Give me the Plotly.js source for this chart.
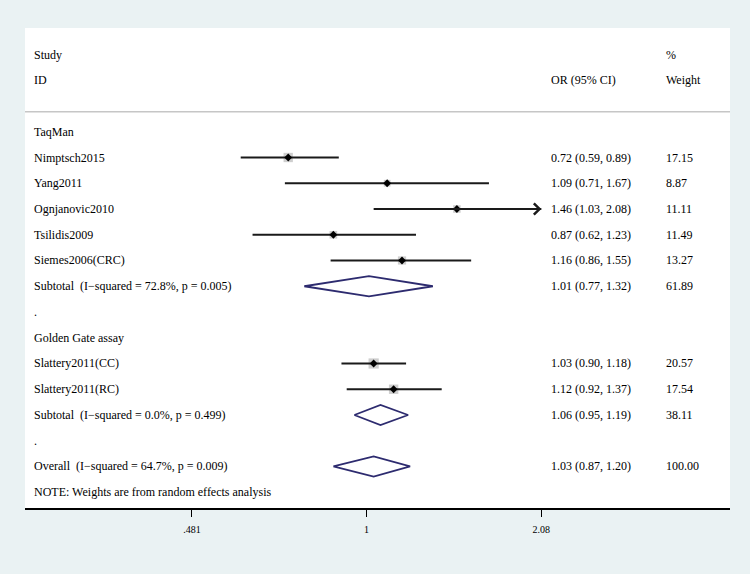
<!DOCTYPE html>
<html>
<head>
<meta charset="utf-8">
<script src="https://cdn.plot.ly/plotly-3.0.1.min.js"></script>
<style>html,body{margin:0;padding:0;background:#eaf2f3;}</style>
</head>
<body>
<div id="chart" style="width:750px;height:574px;"></div>
<script>
// ---- data ----
const rowLabels = [
  "TaqMan",
  "Nimptsch2015",
  "Yang2011",
  "Ognjanovic2010",
  "Tsilidis2009",
  "Siemes2006(CRC)",
  "Subtotal  (I\u2212squared = 72.8%, p = 0.005)",
  ".",
  "Golden Gate assay",
  "Slattery2011(CC)",
  "Slattery2011(RC)",
  "Subtotal  (I\u2212squared = 0.0%, p = 0.499)",
  ".",
  "Overall  (I\u2212squared = 64.7%, p = 0.009)"
];
const rowKind = ["group","study","study","study","study","study","pooled","blank","group","study","study","pooled","blank","pooled"];
const orEst  = [null, 0.72, 1.09, 1.46, 0.87, 1.16, 1.01, null, null, 1.03, 1.12, 1.06, null, 1.03];
const ciLow  = [null, 0.59, 0.71, 1.03, 0.62, 0.86, 0.77, null, null, 0.90, 0.92, 0.95, null, 0.87];
const ciHigh = [null, 0.89, 1.67, 2.08, 1.23, 1.55, 1.32, null, null, 1.18, 1.37, 1.19, null, 1.20];
const weight = [null, 17.15, 8.87, 11.11, 11.49, 13.27, 61.89, null, null, 20.57, 17.54, 38.11, null, 100.00];
const tickVals = [0.481, 1, 2.08];
const tickText = [".481", "1", "2.08"];
const overallOR = 1.03;
const headerLeft = ["Study", "ID"];
const headerOR = "OR (95% CI)";
const headerWeight = ["%", "Weight"];
const noteText = "NOTE: Weights are from random effects analysis";

// ---- layout helpers ----
const FIRST_ROW = 3;            // rows 0,1 header; row 2 blank
const rowY = rowLabels.map((_, i) => FIRST_ROW + i);
const noteRow = FIRST_ROW + rowLabels.length;
const FONT = "Liberation Serif, Times New Roman, serif";
const TXT = "#000000";

const traces = [];

// weight squares
const sq = {x: [], y: [], s: []};
rowKind.forEach((k, i) => {
  if (k === "study") { sq.x.push(orEst[i]); sq.y.push(rowY[i]); sq.s.push(2.25 * Math.sqrt(weight[i])); }
});
traces.push({type: "scatter", mode: "markers", x: sq.x, y: sq.y,
  marker: {symbol: "square", size: sq.s, color: "#b9b9b9", line: {width: 0}}, hoverinfo: "skip"});

// CI lines
const ci = {x: [], y: []};
rowKind.forEach((k, i) => {
  if (k === "study") { ci.x.push(ciLow[i], ciHigh[i], null); ci.y.push(rowY[i], rowY[i], null); }
});
traces.push({type: "scatter", mode: "lines", x: ci.x, y: ci.y,
  line: {color: "#1a1a1a", width: 2}, hoverinfo: "skip"});

// point estimates
const pt = {x: [], y: []};
rowKind.forEach((k, i) => { if (k === "study") { pt.x.push(orEst[i]); pt.y.push(rowY[i]); } });
traces.push({type: "scatter", mode: "markers", x: pt.x, y: pt.y,
  marker: {symbol: "diamond", size: 6, color: "#000000"}, hoverinfo: "skip"});

// pooled diamonds
const H = 0.39;
const dm = {x: [], y: []};
rowKind.forEach((k, i) => {
  if (k === "pooled") {
    dm.x.push(ciLow[i], orEst[i], ciHigh[i], orEst[i], ciLow[i], null);
    dm.y.push(rowY[i], rowY[i] - H, rowY[i], rowY[i] + H, rowY[i], null);
  }
});
traces.push({type: "scatter", mode: "lines", x: dm.x, y: dm.y,
  line: {color: "#2d2b6f", width: 1.8}, hoverinfo: "skip"});

// ---- annotations ----
const ann = [];
function txt(xp, y, t) {
  ann.push({xref: "paper", yref: "y", x: xp, y: y, text: t, showarrow: false,
    xanchor: "left", yanchor: "middle", font: {family: FONT, size: 12, color: TXT}});
}
const X_LEFT = 0.0104, X_OR = 0.7433, X_W = 0.906;
txt(X_LEFT, 0, headerLeft[0]);
txt(X_LEFT, 1, headerLeft[1]);
txt(X_OR, 1, headerOR);
txt(X_W, 0, headerWeight[0]);
txt(X_W, 1, headerWeight[1]);
rowLabels.forEach((lab, i) => {
  txt(X_LEFT, rowY[i], lab);
  if (orEst[i] !== null) {
    txt(X_OR, rowY[i], orEst[i].toFixed(2) + " (" + ciLow[i].toFixed(2) + ", " + ciHigh[i].toFixed(2) + ")");
    txt(X_W, rowY[i], weight[i].toFixed(2));
  }
});
txt(X_LEFT, noteRow, noteText);

// arrows for CIs reaching the axis limit
const maxTick = Math.max(...tickVals);
rowKind.forEach((k, i) => {
  if (k === "study" && ciHigh[i] >= maxTick) {
    ann.push({xref: "x", yref: "y", axref: "x", ayref: "y",
      x: Math.log10(ciHigh[i]), y: rowY[i], ax: Math.log10(ciLow[i]), ay: rowY[i],
      showarrow: true, arrowhead: 4, arrowsize: 1.1, arrowwidth: 2, arrowcolor: "#1a1a1a",
      standoff: 0, text: ""});
  }
});

// ---- shapes ----
const DIV_Y = 0.8256;
const shapes = [
  {type: "line", xref: "paper", yref: "paper", x0: 0, x1: 1, y0: DIV_Y, y1: DIV_Y,
   line: {color: "#c6c6c6", width: 1.5}},
  {type: "line", xref: "x", yref: "paper", x0: Math.log10(1), x1: Math.log10(1), y0: 0, y1: DIV_Y - 0.002,
   line: {color: "#111111", width: 1.3}, layer: "below"},
  {type: "line", xref: "x", yref: "paper", x0: Math.log10(overallOR), x1: Math.log10(overallOR), y0: 0, y1: DIV_Y - 0.002,
   line: {color: "#8e2a45", width: 1.3, dash: "5px,4px"}, layer: "below"}
];

const layout = {
  width: 750, height: 574,
  margin: {l: 25, r: 20, t: 28, b: 66, pad: 0},
  paper_bgcolor: "#eaf2f3",
  plot_bgcolor: "#ffffff",
  showlegend: false,
  hovermode: false,
  xaxis: {type: "log", range: [-0.6218, 0.6615], tickvals: tickVals, ticktext: tickText,
    ticks: "outside", ticklen: 7, tickwidth: 1, tickcolor: "#000", ticklabelstandoff: 4,
    showline: true, linecolor: "#000", linewidth: 1.5, mirror: false,
    showgrid: false, zeroline: false, fixedrange: true,
    tickfont: {family: FONT, size: 10, color: TXT}},
  yaxis: {range: [17.612, -1.029], visible: false, showgrid: false, zeroline: false, fixedrange: true},
  annotations: ann,
  shapes: shapes,
  font: {family: FONT, size: 12, color: TXT}
};

Plotly.newPlot("chart", traces, layout, {staticPlot: true, displayModeBar: false});
</script>
</body>
</html>
